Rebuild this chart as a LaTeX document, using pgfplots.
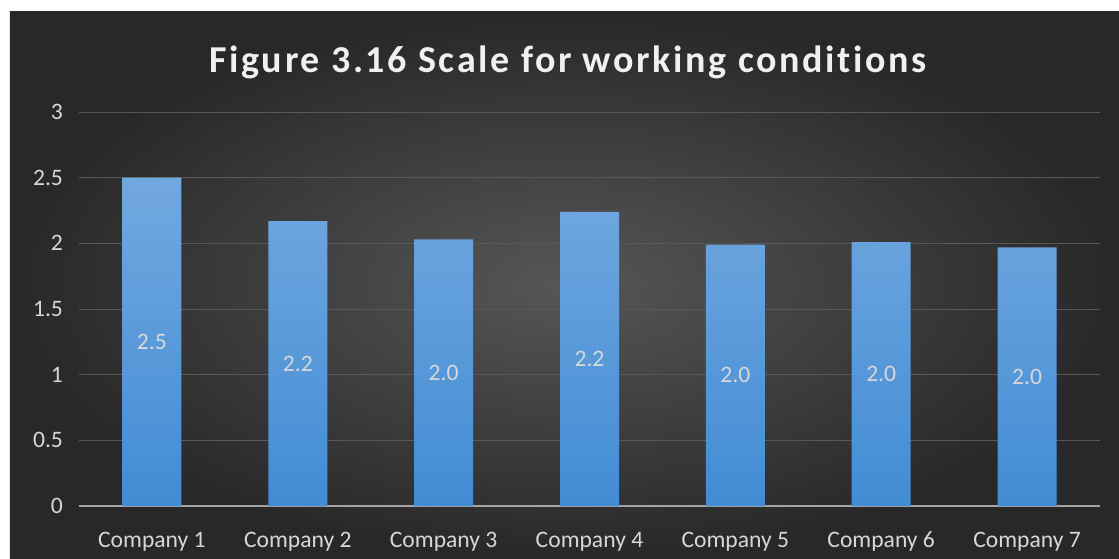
\documentclass[border=0pt]{standalone}
\usepackage{pgfplots}
\pgfplotsset{compat=1.18}
\usepackage{fontspec}
\setmainfont{Carlito}
\newfontfamily\titlefont[LetterSpace=7,Ligatures={NoCommon,NoRare}]{Carlito}
\definecolor{bgin}{RGB}{86,86,86}
\definecolor{bgout}{RGB}{40,40,40}
\definecolor{bartop}{RGB}{114,168,224}
\definecolor{barbot}{RGB}{66,140,212}
\definecolor{gridc}{RGB}{88,88,88}
\definecolor{axisc}{RGB}{165,165,165}
\definecolor{txt}{RGB}{215,215,215}
\begin{document}
\begin{tikzpicture}
% background: 1px = 0.5pt, plot origin at px (79,506)
\fill[white] (-39.5pt,-26pt) rectangle (520pt,253pt);
\shade[inner color=bgin, outer color=bgout] (-34.5pt,-26pt) rectangle (520pt,247pt);
\useasboundingbox (-39.5pt,-26pt) rectangle (520pt,253pt);
\begin{axis}[
  scale only axis,
  width=510.5pt, height=197pt,
  at={(0,0)}, anchor=south west,
  ybar, bar width=29.5pt,
  xmin=-0.5, xmax=6.5,
  ymin=0, ymax=3,
  xtick=data,
  xticklabels={Company 1,Company 2,Company 3,Company 4,Company 5,Company 6,Company 7},
  ytick={0,0.5,...,3},
  yticklabels={0,0.5,1,1.5,2,2.5,3},
  axis x line*=bottom, axis y line*=left,
  x axis line style={axisc, line width=1pt, -},
  y axis line style={draw=none},
  major tick length=0pt,
  ymajorgrids, grid style={gridc, line width=0.5pt},
  tick label style={font=\fontsize{11.8}{13}\selectfont, text=txt},
  typeset ticklabels with strut,
  yticklabel style={xshift=-4.5pt, yshift=-1.2pt},
  xticklabel style={yshift=-8pt},
  nodes near coords,
  visualization depends on=rawy \as \rawy,
  every node near coord/.append style={font=\fontsize{11.8}{13}\selectfont, text=txt, anchor=center,
    shift={(axis direction cs:0,-\rawy/2)},
    /pgf/number format/assume math mode=true,
    /pgf/number format/fixed, /pgf/number format/fixed zerofill, /pgf/number format/precision=1},
  clip=false,
]
\addplot[draw=none, top color=bartop, bottom color=barbot] coordinates {
  (0,2.50) (1,2.17) (2,2.03) (3,2.24) (4,1.99) (5,2.01) (6,1.97)
};
\end{axis}
\node[text=white!94!black, font=\titlefont\bfseries\fontsize{19}{22}\selectfont] at (244.5pt,222pt) {Figure 3.16 Scale for working conditions};
\end{tikzpicture}
\end{document}
